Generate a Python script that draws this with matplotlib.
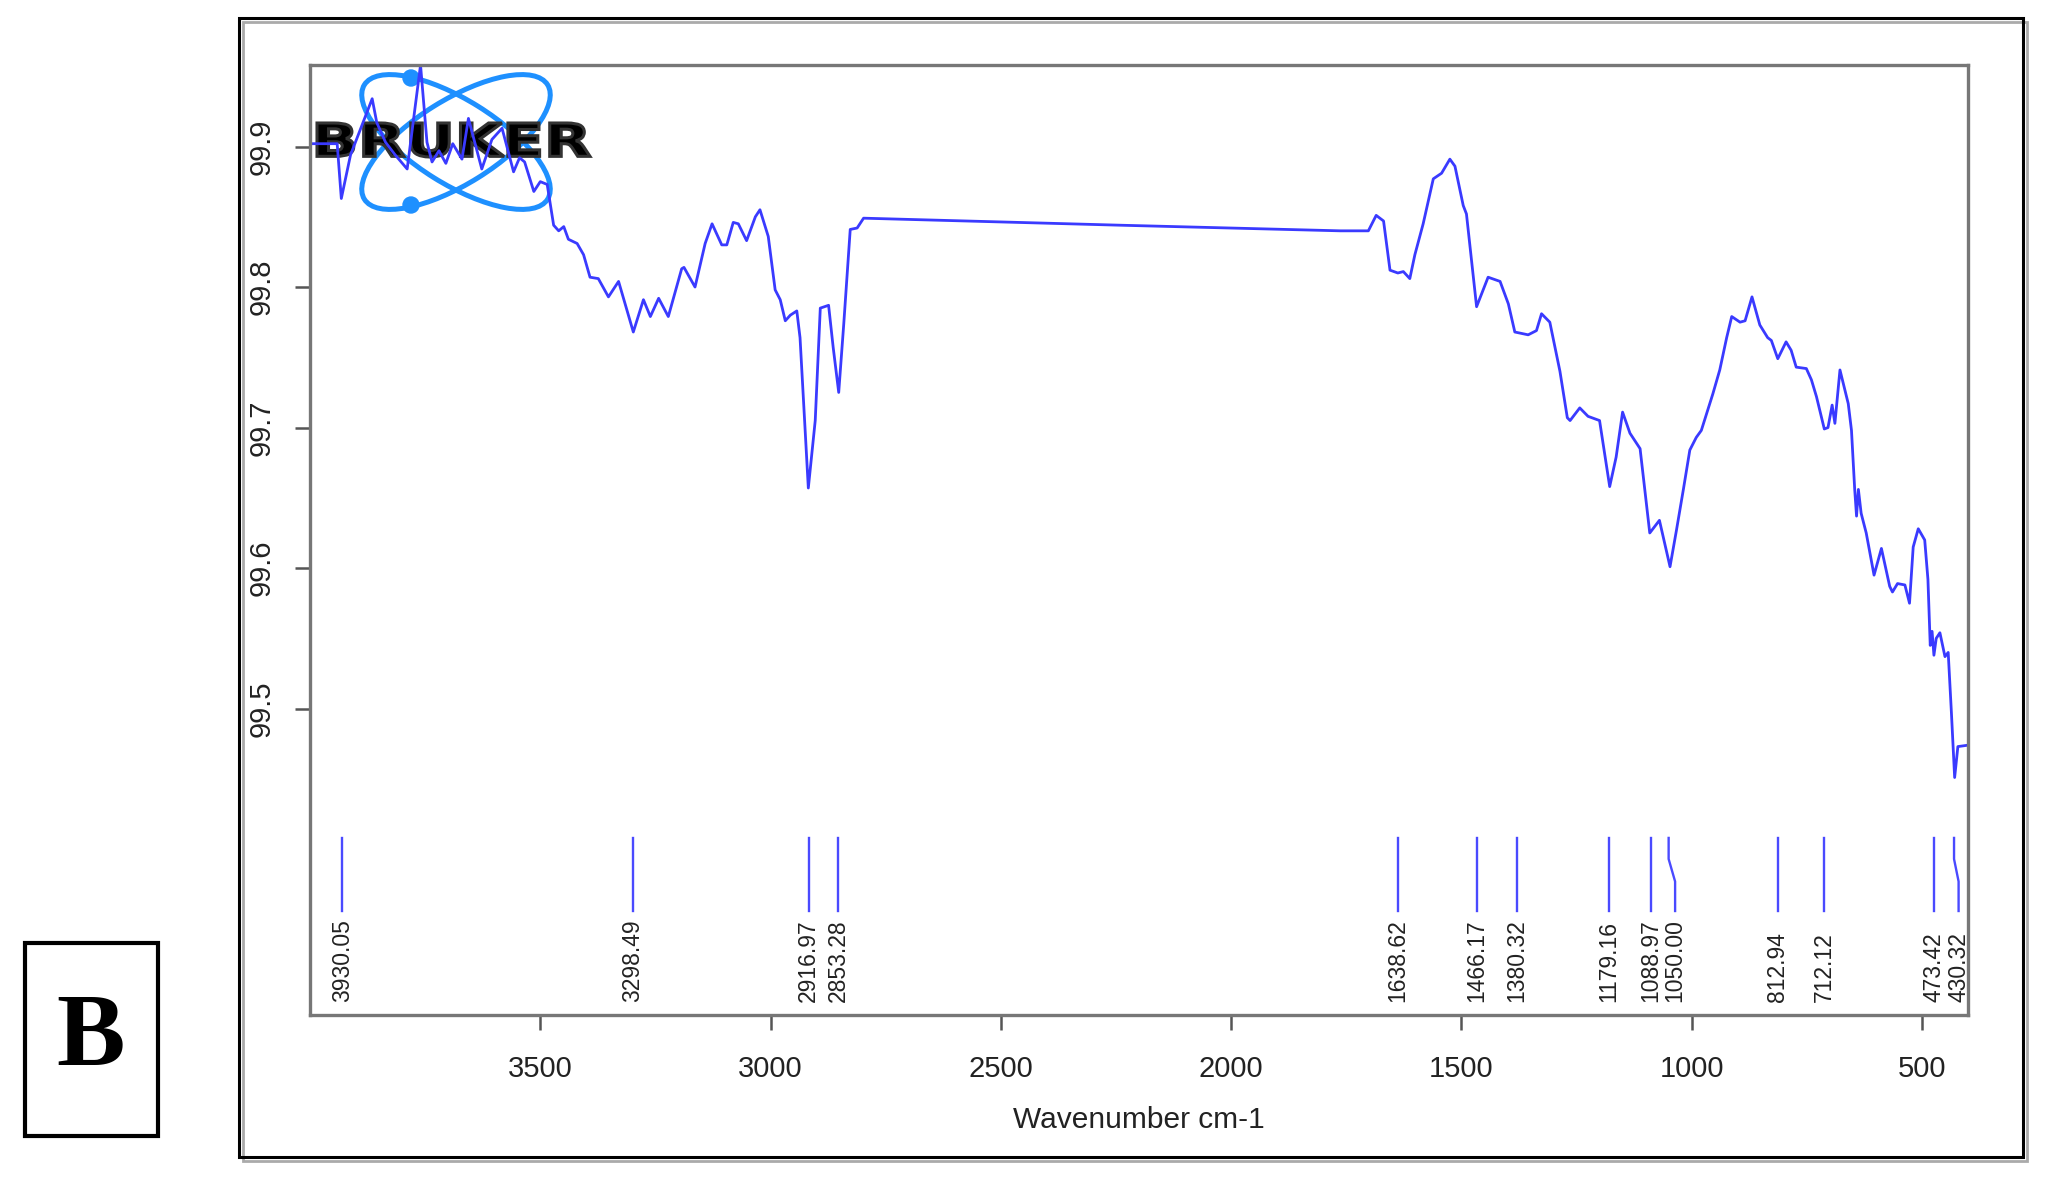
import matplotlib.pyplot as plt
from matplotlib.patches import Ellipse, Circle, Rectangle, PathPatch
from matplotlib.textpath import TextPath
from matplotlib.font_manager import FontProperties
from matplotlib.transforms import Affine2D

plt.rcParams['font.family'] = ['Liberation Sans', 'DejaVu Sans']

# spectrum (wavenumber in cm-1, transmittance in %)
wavenumber = [
    3996, 3941, 3932, 3912, 3865, 3855, 3836, 3815, 3789, 3760, 3746, 3735,
    3720, 3705, 3690, 3670, 3656, 3640, 3627, 3605, 3583, 3558, 3545, 3534,
    3514, 3500, 3485, 3471, 3460, 3449, 3439, 3420, 3406, 3392, 3374, 3352,
    3330, 3298, 3276, 3261, 3243, 3222, 3193, 3188, 3164, 3142, 3127, 3106,
    3095, 3081, 3070, 3052, 3033, 3023, 3005, 2990, 2979, 2968, 2957, 2943,
    2936, 2918, 2903, 2892, 2874, 2864, 2852, 2841, 2827, 2812, 2798, 2241,
    1763, 1702, 1685, 1669, 1655, 1638, 1626, 1612, 1601, 1583, 1561, 1543,
    1525, 1514, 1496, 1489, 1467, 1442, 1416, 1398, 1384, 1355, 1337, 1326,
    1308, 1286, 1270, 1264, 1243, 1225, 1200, 1178, 1164, 1150, 1134, 1112,
    1091, 1070, 1047, 1033, 1018, 1004, 990, 979, 954, 939, 924, 913, 895,
    884, 869, 852, 835, 827, 813, 795, 784, 773, 751, 740, 729, 712, 704,
    695, 689, 678, 660, 653, 646, 642, 638, 632, 621, 604, 588, 570, 564,
    553, 537, 527, 519, 508, 494, 487, 482, 478, 474, 469, 461, 450, 443,
    436, 429, 422, 400,
]
transmittance = [
    99.902, 99.902, 99.863, 99.894, 99.934, 99.917, 99.903, 99.894, 99.884,
    99.958, 99.903, 99.889, 99.897, 99.888, 99.902, 99.891, 99.920, 99.900,
    99.884, 99.905, 99.913, 99.882, 99.892, 99.889, 99.868, 99.875, 99.873,
    99.844, 99.840, 99.843, 99.834, 99.831, 99.823, 99.807, 99.806, 99.793,
    99.804, 99.768, 99.791, 99.779, 99.792, 99.779, 99.813, 99.814, 99.800,
    99.831, 99.845, 99.830, 99.830, 99.846, 99.845, 99.833, 99.850, 99.855,
    99.836, 99.798, 99.791, 99.776, 99.780, 99.783, 99.764, 99.657, 99.705,
    99.785, 99.787, 99.757, 99.725, 99.774, 99.841, 99.842, 99.849, 99.844,
    99.840, 99.840, 99.851, 99.847, 99.812, 99.810, 99.811, 99.806, 99.823,
    99.845, 99.877, 99.881, 99.891, 99.886, 99.858, 99.852, 99.786, 99.807,
    99.804, 99.788, 99.768, 99.766, 99.769, 99.781, 99.775, 99.740, 99.707,
    99.705, 99.714, 99.708, 99.705, 99.658, 99.679, 99.711, 99.696, 99.685,
    99.625, 99.634, 99.601, 99.627, 99.656, 99.684, 99.693, 99.698, 99.724,
    99.741, 99.764, 99.779, 99.775, 99.776, 99.793, 99.773, 99.764, 99.762,
    99.749, 99.761, 99.755, 99.743, 99.742, 99.734, 99.722, 99.699, 99.700,
    99.716, 99.703, 99.741, 99.717, 99.698, 99.656, 99.637, 99.656, 99.639,
    99.625, 99.595, 99.614, 99.587, 99.583, 99.589, 99.588, 99.575, 99.615,
    99.628, 99.620, 99.592, 99.545, 99.555, 99.538, 99.550, 99.554, 99.537,
    99.540, 99.497, 99.451, 99.473, 99.474,
]

peak_positions = [3930.05, 3298.49, 2916.97, 2853.28, 1638.62, 1466.17,
                  1380.32, 1179.16, 1088.97, 1050.00, 812.94, 712.12,
                  473.42, 430.32]
x_ticks = [3500, 3000, 2500, 2000, 1500, 1000, 500]
y_ticks = [99.5, 99.6, 99.7, 99.8, 99.9]

W, H = 2048, 1186
fig = plt.figure(figsize=(W / 100, H / 100), dpi=100)

# background layer in pixel coordinates: frames, logo and panel letter
bg = fig.add_axes([0, 0, 1, 1], zorder=0)
bg.set_xlim(0, W)
bg.set_ylim(H, 0)
bg.axis('off')

bg.add_patch(Rectangle((243, 22), 1784, 1139, fill=False, lw=2.0, ec='#aaaaaa'))
bg.add_patch(Rectangle((239, 18), 1784, 1139, fill=False, lw=2.2, ec='black'))
bg.add_patch(Rectangle((25, 943), 133, 193, fill=False, lw=3.0, ec='black'))
bg.text(91, 1040, 'B', fontsize=74, fontweight='bold', ha='center', va='center',
        family=['Liberation Serif', 'DejaVu Serif'])

# Bruker logo
logo_blue = '#1e90ff'
for angle in (32, -32):
    bg.add_patch(Ellipse((456, 142), 216, 84, angle=angle, fill=False,
                         lw=3.6, ec=logo_blue))
bg.add_patch(Circle((411, 78), 8, color=logo_blue))
bg.add_patch(Circle((411, 205), 8, color=logo_blue))
tp = TextPath((0, 0), 'BRUKER', size=50,
              prop=FontProperties(family='DejaVu Sans', weight='bold'))
ext = tp.get_extents()
fit = (Affine2D().translate(-ext.x0, -ext.y0)
       .scale(273 / ext.width, -34 / ext.height).translate(317, 157))
bg.add_patch(PathPatch(fit.transform_path(tp), fc='black', ec='#333333', lw=2.2))

# spectrum axes
ax = fig.add_axes([310 / W, 1 - 1015 / H, (1968 - 310) / W, (1015 - 65) / H],
                  zorder=1)
ax.patch.set_alpha(0)
ax.plot(wavenumber, transmittance, color='#3a3aff', lw=2.0)
ax.set_xlim(4000, 400)
ax.set_ylim(99.282, 99.958)

# peak markers, labels nudged apart when they would overlap
gap = 53
label_x = []
for p in peak_positions:
    lx = p
    if label_x and label_x[-1] - lx < gap:
        lx = label_x[-1] - gap
    label_x.append(lx)
for p, lx in zip(peak_positions, label_x):
    ax.plot([p, p, lx, lx], [99.408, 99.393, 99.377, 99.356],
            color='#4a4aff', lw=1.7)
    ax.text(lx, 99.291, f'{p:.2f}', rotation=90, ha='center', va='bottom',
            fontsize=16.5, color='#222222', clip_on=True)

ax.set_xticks(x_ticks)
ax.set_yticks(y_ticks)
ax.set_yticklabels([f'{v:.1f}' for v in y_ticks], rotation=90, va='center')
ax.tick_params(axis='both', length=11, width=1.8, color='#555555',
               labelsize=21, labelcolor='#222222')
ax.tick_params(axis='x', pad=18)
ax.tick_params(axis='y', pad=14)
for sp in ax.spines.values():
    sp.set_color('#777777')
    sp.set_linewidth(2.4)
ax.set_xlabel('Wavenumber cm-1', fontsize=21.5, color='#222222', labelpad=16)

fig.savefig('out.png', dpi=100)
